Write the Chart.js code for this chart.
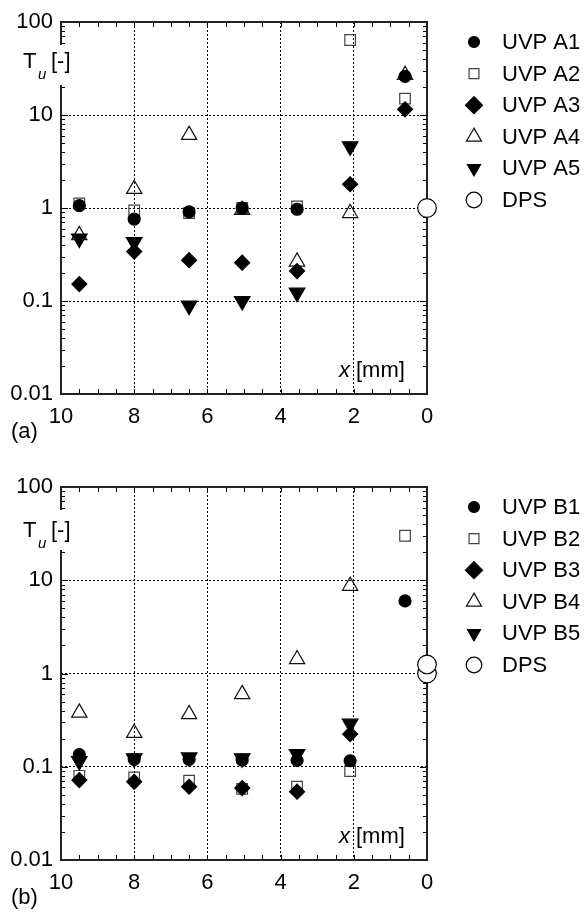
<!DOCTYPE html>
<html>
<head>
<meta charset="utf-8">
<script src="https://cdn.jsdelivr.net/npm/chart.js@4.4.1/dist/chart.umd.min.js"></script>
<style>
  html, body { margin: 0; padding: 0; background: #fff; }
  .box { position: absolute; left: 0; width: 585px; height: 456px; }
</style>
</head>
<body>
<div class="box" style="top:0"><canvas id="chartA" width="585" height="456"></canvas></div>
<div class="box" style="top:456px"><canvas id="chartB" width="585" height="456"></canvas></div>
<script>
// x positions of the probes [mm]
const xPos = [9.5, 8.0, 6.5, 5.05, 3.55, 2.1, 0.6];
const yTicks = [0.01, 0.1, 1, 10, 100];
const xTicks = [10, 8, 6, 4, 2, 0];

// (a) series
const uvpA1 = [1.06, 0.76, 0.91, 1.0, 0.97, null, 26];
const uvpA2 = [1.12, 0.94, 0.88, 1.0, 1.04, 64, 15];
const uvpA3 = [0.152, 0.34, 0.275, 0.258, 0.21, 1.8, 11.5];
const uvpA4 = [0.51, 1.6, 6.1, 0.95, 0.265, 0.88, 27];
const uvpA5 = [0.47, 0.43, 0.089, 0.1, 0.123, 4.6, null];
const dpsA = [1.0];

// (b) series
const uvpB1 = [0.135, 0.12, 0.12, 0.118, 0.117, 0.116, 6.0];
const uvpB2 = [0.08, 0.077, 0.071, 0.058, 0.061, 0.09, 30];
const uvpB3 = [0.072, 0.069, 0.061, 0.059, 0.054, 0.224, null];
const uvpB4 = [0.38, 0.23, 0.366, 0.6, 1.42, 8.7, null];
const uvpB5 = [0.115, 0.123, 0.126, 0.123, 0.137, 0.29, null];
const dpsB = [1.0, 1.25];

const FONT = "'Liberation Sans', Arial, sans-serif";

function pts(vals) {
  return vals.map((v, i) => ({ x: xPos[i], y: v }));
}

// marker look per series (lr = size in the legend)
const styles = [
  { pointStyle: 'circle', radius: 6, fill: '#000', stroke: '#000', rot: 0, lr: 5.5, order: 0 },
  { pointStyle: 'rect', radius: 7.5, fill: 'rgba(0,0,0,0)', stroke: '#444', rot: 0, lr: 7, order: 3 },
  { pointStyle: 'rectRot', radius: 7.5, fill: '#000', stroke: '#000', rot: 0, lr: 8.5, order: 1 },
  { pointStyle: 'triangle', radius: 8.8, fill: 'rgba(0,0,0,0)', stroke: '#111', rot: 0, lr: 8.7, order: 4 },
  { pointStyle: 'triangle', radius: 9, fill: '#000', stroke: '#000', rot: 180, lr: 7.5, order: 2 },
];

function makeDatasets(labels, series, dps) {
  const sets = series.map((vals, i) => ({
    label: labels[i],
    data: pts(vals),
    pointStyle: styles[i].pointStyle,
    pointRadius: styles[i].radius,
    pointRotation: styles[i].rot,
    backgroundColor: styles[i].fill,
    borderColor: styles[i].stroke,
    borderWidth: 1.2,
    showLine: false,
    clip: false,
    order: styles[i].order,
    legendRadius: styles[i].lr,
  }));
  sets.push({
    label: 'DPS',
    data: dps.map(v => ({ x: 0, y: v })),
    pointStyle: 'circle',
    pointRadius: 9.3,
    backgroundColor: '#fff',
    borderColor: '#000',
    borderWidth: 1.2,
    showLine: false,
    clip: false,
    order: 5,
    legendRadius: 7.8,
  });
  return sets;
}

// frame, inward ticks, in-plot labels and legend
const decor = {
  id: 'decor',
  beforeDatasetsDraw(chart) {
    const { ctx, chartArea: a, scales: { x, y } } = chart;
    ctx.save();
    ctx.strokeStyle = '#000';
    ctx.lineWidth = 1;
    ctx.beginPath();
    [0.01, 0.1, 1, 10].forEach(d => {
      for (let k = 1; k <= 9; k++) {
        const py = Math.round(y.getPixelForValue(d * k)) + 0.5;
        const len = k === 1 ? 7 : 4;
        ctx.moveTo(a.left, py); ctx.lineTo(a.left + len, py);
        ctx.moveTo(a.right, py); ctx.lineTo(a.right - len, py);
      }
    });
    for (let v = 0.5; v < 10; v += 0.5) {
      const px = Math.round(x.getPixelForValue(v)) + 0.5;
      ctx.moveTo(px, a.bottom); ctx.lineTo(px, a.bottom - 5);
      ctx.moveTo(px, a.top); ctx.lineTo(px, a.top + 5);
    }
    ctx.stroke();
    ctx.lineWidth = 2;
    ctx.strokeStyle = '#222';
    ctx.strokeRect(a.left, a.top, a.right - a.left, a.bottom - a.top);
    ctx.restore();
  },
  afterDraw(chart, args, opts) {
    const { ctx, chartArea: a } = chart;
    ctx.save();
    // T_u label sits in a white box over the axis
    ctx.fillStyle = '#fff';
    ctx.fillRect(20, a.top + 23, 56, 40);
    ctx.fillStyle = '#000';
    ctx.textBaseline = 'alphabetic';
    ctx.textAlign = 'left';
    ctx.font = '22px ' + FONT;
    ctx.fillText('T', 23, a.top + opts.tuBase);
    ctx.fillText('[-]', 51, a.top + opts.tuBase);
    ctx.font = 'italic 15px ' + FONT;
    ctx.fillText('u', 38, a.top + opts.tuBase + 11);
    // x [mm]
    ctx.font = 'italic 22px ' + FONT;
    ctx.fillText('x', 339, a.bottom - 17);
    ctx.font = '22px ' + FONT;
    ctx.fillText('[mm]', 356, a.bottom - 17);
    // panel letter
    ctx.textBaseline = 'middle';
    ctx.fillText(opts.letter, 11, a.bottom + 38);
    // legend
    chart.data.datasets.forEach((ds, i) => {
      const cy = a.top + 20 + i * 31.6;
      ctx.fillStyle = ds.backgroundColor === 'rgba(0,0,0,0)' ? '#fff' : ds.backgroundColor;
      ctx.strokeStyle = ds.borderColor;
      ctx.lineWidth = 1.2;
      Chart.helpers.drawPoint(ctx, {
        pointStyle: ds.pointStyle,
        rotation: ds.pointRotation || 0,
        radius: ds.legendRadius,
        borderWidth: 1.2,
      }, 474, cy);
      ctx.fillStyle = '#000';
      ctx.font = '22px ' + FONT;
      ctx.textBaseline = 'middle';
      ctx.fillText(ds.label, 502, cy + 1);
    });
    ctx.restore();
  }
};

function buildChart(id, labels, series, dps, padTop, xHeight, letter, tuBase) {
  return new Chart(document.getElementById(id), {
    type: 'scatter',
    data: { datasets: makeDatasets(labels, series, dps) },
    plugins: [decor],
    options: {
      responsive: false,
      animation: false,
      layout: { padding: { top: padTop, left: 0, right: 158, bottom: 0 } },
      plugins: {
        legend: { display: false },
        tooltip: { enabled: false },
        decor: { letter, tuBase },
      },
      scales: {
        x: {
          type: 'linear',
          min: 0,
          max: 10,
          reverse: true,
          afterBuildTicks: s => { s.ticks = xTicks.map(v => ({ value: v })); },
          afterFit: s => { s.height = xHeight; },
          ticks: { color: '#000', font: { family: FONT, size: 22 }, padding: 10, maxRotation: 0 },
          grid: {
            drawTicks: false,
            color: c => (c.tick && (c.tick.value === 0 || c.tick.value === 10)) ? 'rgba(0,0,0,0)' : '#000',
            lineWidth: 1,
          },
          border: { display: false, dash: [2, 2] },
        },
        y: {
          type: 'logarithmic',
          min: 0.01,
          max: 100,
          afterBuildTicks: s => { s.ticks = yTicks.map(v => ({ value: v })); },
          afterFit: s => { s.width = 61; },
          ticks: { color: '#000', font: { family: FONT, size: 22 }, padding: 8, callback: v => String(v) },
          grid: {
            drawTicks: false,
            color: c => (c.tick && (c.tick.value === 0.01 || c.tick.value === 100)) ? 'rgba(0,0,0,0)' : '#000',
            lineWidth: 1,
          },
          border: { display: false, dash: [2, 2] },
        },
      },
    },
  });
}

buildChart('chartA', ['UVP A1', 'UVP A2', 'UVP A3', 'UVP A4', 'UVP A5'],
  [uvpA1, uvpA2, uvpA3, uvpA4, uvpA5], dpsA, 22, 62, '(a)', 46);
buildChart('chartB', ['UVP B1', 'UVP B2', 'UVP B3', 'UVP B4', 'UVP B5'],
  [uvpB1, uvpB2, uvpB3, uvpB4, uvpB5], dpsB, 31, 52, '(b)', 50);
</script>
</body>
</html>
